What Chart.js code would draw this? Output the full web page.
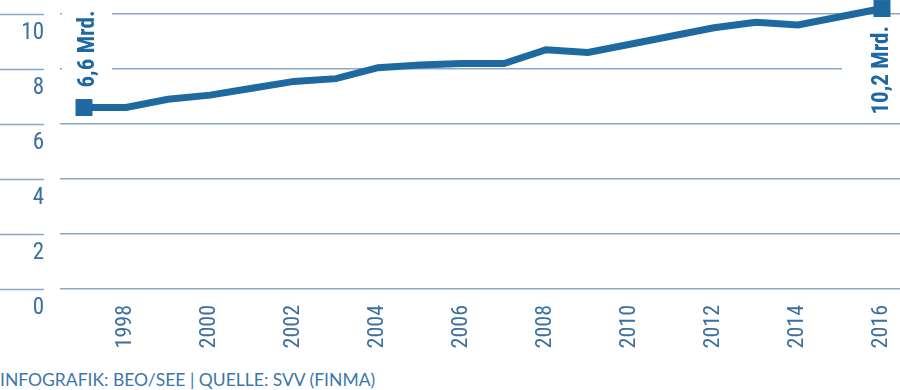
<!DOCTYPE html>
<html>
<head>
<meta charset="utf-8">
<script src="https://cdn.jsdelivr.net/npm/chart.js@4/dist/chart.umd.min.js"></script>
<style>
  body { margin: 0; background: #fff; }
  #wrap { position: relative; width: 900px; height: 390px; }
  #footer {
    position: absolute; left: 0; top: 369px;
    font: 17.5px Lato, "Open Sans", sans-serif; color: #3c77a9;
  }
</style>
</head>
<body>
<div id="wrap">
  <canvas id="premiumChart" width="900" height="360"></canvas>
  <div id="footer">INFOGRAFIK: BEO/SEE | QUELLE: SVV (FINMA)</div>
</div>
<script>
// Data

let years = [1997, 1998, 1999, 2000, 2001, 2002, 2003, 2004, 2005, 2006,
  2007, 2008, 2009, 2010, 2011, 2012, 2013, 2014, 2015, 2016];
let premiums = [6.6, 6.6, 6.9, 7.05, 7.3, 7.55, 7.65, 8.05, 8.15, 8.2,
  8.2, 8.7, 8.6, 8.9, 9.2, 9.5, 9.7, 9.6, 9.9, 10.2];
let yTicks = [0, 2, 4, 6, 8, 10];
let xTicks = [1998, 2000, 2002, 2004, 2006, 2008, 2010, 2012, 2014, 2016];
let startLabel = "6,6 Mrd.";
let endLabel = "10,2 Mrd.";

// Styles

let blue = "#1f69a1";
let gridBlue = "#8ba7c5";
let tickBlue = "#3c6f9e";
let narrowFont = "'Roboto Condensed', 'DejaVu Sans Condensed', sans-serif";

// Grid segments left of the axis labels + rotated end labels
let extrasPlugin = {
  id: "extras",
  beforeDatasetsDraw(chart) {
    let c = chart.ctx;
    let y = chart.scales.y;
    let x = chart.scales.x;
    c.save();
    c.strokeStyle = gridBlue;
    c.lineWidth = 1.5;
    yTicks.forEach((v) => {
      let py = Math.round(y.getPixelForValue(v)) + 0.5;
      c.beginPath();
      c.moveTo(0, py);
      c.lineTo(44, py);
      c.stroke();
    });

    let x0 = x.getPixelForValue(years[0]);
    let y0 = y.getPixelForValue(premiums[0]);
    let x1 = x.getPixelForValue(years[years.length - 1]);
    let y1 = y.getPixelForValue(premiums[premiums.length - 1]);

    c.fillStyle = "#fff";
    c.fillRect(x0 - 22, 0, 50, y0 - 12);
    c.fillRect(x1 - 40, y1 + 12, 58, 98);

    c.fillStyle = blue;
    c.font = "bold 23px " + narrowFont;
    c.textAlign = "left";
    c.textBaseline = "middle";

    c.save();
    c.translate(x0 + 4, y0 - 20);
    c.rotate(-Math.PI / 2);
    c.fillText(startLabel, 0, 0);
    c.restore();

    c.save();
    c.translate(x1, y1 + 106);
    c.rotate(-Math.PI / 2);
    c.fillText(endLabel, 0, 0);
    c.restore();

    c.restore();
  },
};

var ctx = document.getElementById("premiumChart").getContext("2d");
var premiumChart = new Chart(ctx, {
  type: "line",
  data: {
    datasets: [
      {
        label: "Prämien",
        data: years.map((yr, i) => ({ x: yr, y: premiums[i] })),
        borderColor: blue,
        backgroundColor: blue,
        borderWidth: 7,
        tension: 0,
        pointStyle: "rect",
        pointRadius: years.map((yr, i) => (i === 0 || i === years.length - 1 ? 12 : 0)),
        pointBorderWidth: 0,
        pointHoverRadius: 0,
        clip: false,
      },
    ],
  },
  options: {
    responsive: false,
    animation: false,
    layout: { padding: 0, autoPadding: false },
    plugins: {
      legend: { display: false },
      tooltip: { enabled: false },
    },
    scales: {
      x: {
        type: "linear",
        min: 1996.4286,
        max: 2016.4286,
        afterBuildTicks: (s) => { s.ticks = xTicks.map((v) => ({ value: v })); },
        afterFit: (s) => { s.height = 71; s.paddingLeft = 0; s.paddingRight = 0; },
        grid: { display: false },
        border: { display: false },
        ticks: {
          minRotation: 90,
          maxRotation: 90,
          autoSkip: false,
          padding: 8,
          color: tickBlue,
          font: { family: narrowFont, size: 22 },
          callback: (v) => String(v),
        },
      },
      y: {
        min: 0,
        max: 10.51,
        afterBuildTicks: (s) => { s.ticks = yTicks.map((v) => ({ value: v })); },
        afterFit: (s) => { s.width = 60; s.paddingTop = 0; s.paddingBottom = 0; },
        grid: { color: gridBlue, lineWidth: 1.5, drawTicks: false },
        border: { display: false },
        ticks: {
          padding: 16,
          labelOffset: 19,
          color: tickBlue,
          font: { family: narrowFont, size: 23 },
        },
      },
    },
  },
  plugins: [extrasPlugin],
});
</script>
</body>
</html>
